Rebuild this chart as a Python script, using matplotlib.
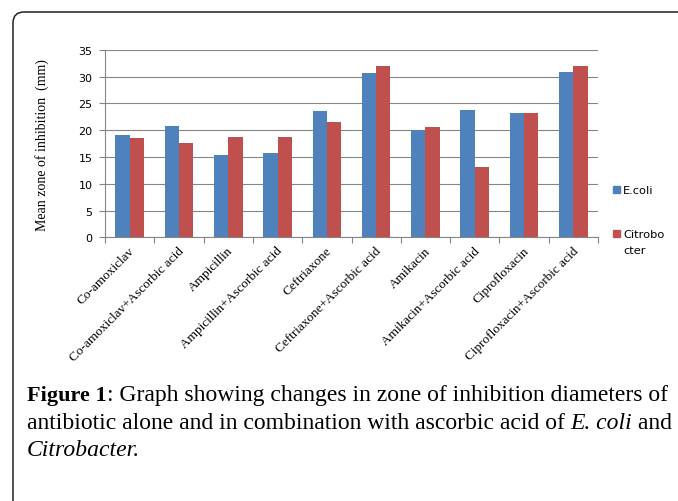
import numpy as np
import matplotlib
matplotlib.use("Agg")
import matplotlib.pyplot as plt
from matplotlib.patches import FancyBboxPatch, Rectangle
from matplotlib.transforms import IdentityTransform, offset_copy

# data
drugs = ["Co-amoxiclav", "Co-amoxiclav+Ascorbic acid", "Ampicillin",
         "Ampicillin+Ascorbic acid", "Ceftriaxone", "Ceftriaxone+Ascorbic acid",
         "Amikacin", "Amikacin+Ascorbic acid", "Ciprofloxacin",
         "Ciprofloxacin+Ascorbic acid"]
ecoli = [19.1, 20.8, 15.3, 15.8, 23.5, 30.6, 20.0, 23.7, 23.1, 30.8]
citrobacter = [18.5, 17.6, 18.7, 18.7, 21.6, 32.0, 20.6, 13.1, 23.1, 31.9]
series_names = ["E.coli", "Citrobo\ncter"]
yticks = [0, 5, 10, 15, 20, 25, 30, 35]

W, H = 678, 502
blue = "#4F81BD"
red = "#C0504D"
gray = "#868686"

fig = plt.figure(figsize=(W / 100, H / 100), dpi=100)

# rounded frame running off the right and bottom edges
frame = FancyBboxPatch((13, -40), 720, H - 13 + 40,
                       boxstyle="round,pad=0,rounding_size=11",
                       transform=IdentityTransform(), facecolor="none",
                       edgecolor="#222222", linewidth=1.1)
fig.add_artist(frame)

ax = fig.add_axes([105 / W, 1 - 238.3 / H, 493 / W, 187.6 / H])
x = np.arange(len(drugs))
bw = 0.29
ax.bar(x - bw / 2, ecoli, bw, color=blue, zorder=3)
ax.bar(x + bw / 2, citrobacter, bw, color=red, zorder=3)

ax.set_xlim(-0.5, len(drugs) - 0.5)
ax.set_ylim(0, 35)
ax.set_yticks(yticks)
ax.grid(axis="y", color=gray, linewidth=0.8, zorder=0)
for s in ["top", "right"]:
    ax.spines[s].set_visible(False)
for s in ["left", "bottom"]:
    ax.spines[s].set_color(gray)
    ax.spines[s].set_linewidth(0.8)

ax.set_xticks(x)
ax.set_xticks(np.arange(len(drugs) + 1) - 0.5, minor=True)
ax.tick_params(axis="x", which="major", length=0, pad=8)
ax.tick_params(axis="x", which="minor", length=4, color=gray, width=0.8)
ax.tick_params(axis="y", length=4, color=gray, width=0.8, pad=5,
               labelsize=8)
ax.set_xticklabels(drugs, rotation=45, ha="right", va="center",
                   rotation_mode="anchor", family="Liberation Serif",
                   fontsize=9.5)
for lab in ax.get_xticklabels():
    lab.set_transform(offset_copy(lab.get_transform(), fig=fig, x=3, y=0,
                                  units="dots"))
for lab in ax.get_yticklabels():
    lab.set_family("DejaVu Sans")

fig.text(42 / W, 1 - 145 / H, "Mean zone of inhibition  (mm)", rotation=90,
         ha="center", va="center", family="Liberation Serif", fontsize=10)

# legend
for name, col, ymid in zip(series_names, [blue, red], [190, 234]):
    fig.add_artist(Rectangle((612.5, H - ymid - 3.5), 7, 7,
                             transform=IdentityTransform(), color=col))
    last_base = ymid + 4 + 16 * name.count("\n")
    fig.text(623 / W, 1 - last_base / H, name, ha="left", va="baseline",
             fontsize=8.2, family="DejaVu Sans", linespacing=1.8)

# caption with mixed styles
renderer = fig.canvas.get_renderer()


def draw_runs(x0, y0, runs):
    xp = x0
    for txt, weight, style in runs:
        size = 16 if weight == "bold" else 17
        t = fig.text(xp / W, 1 - y0 / H, txt, ha="left", va="baseline",
                     family="Liberation Serif", fontsize=size,
                     fontweight=weight, fontstyle=style)
        bb = t.get_window_extent(renderer)
        xp = bb.x1


draw_runs(27, 400.7, [("Figure 1", "bold", "normal"),
                      (": Graph showing changes in zone of inhibition diameters of",
                       "normal", "normal")])
draw_runs(27, 429, [("antibiotic alone and in combination with ascorbic acid of ",
                     "normal", "normal"),
                    ("E. coli", "normal", "italic"),
                    (" and", "normal", "normal")])
draw_runs(27, 456, [("Citrobacter.", "normal", "italic")])

fig.savefig("out.png", dpi=100)
